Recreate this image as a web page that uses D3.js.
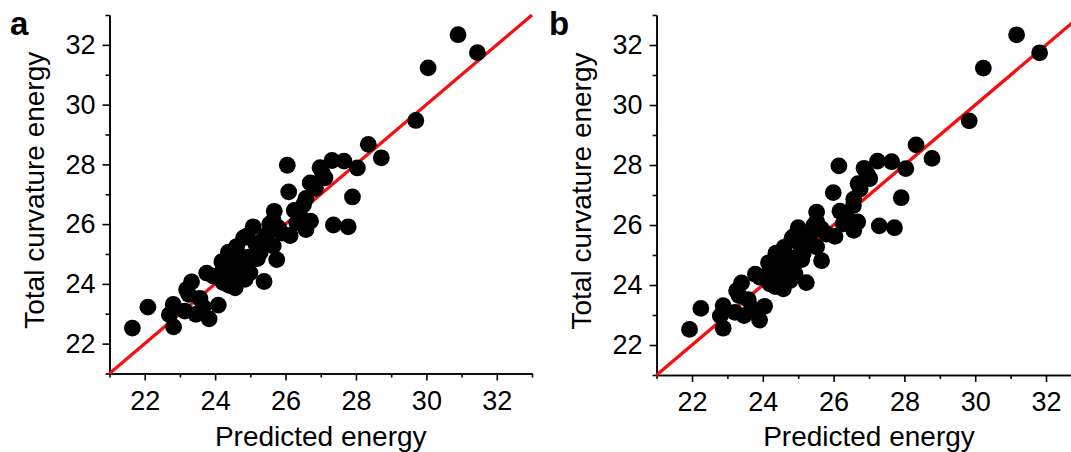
<!DOCTYPE html>
<html lang="en">
<head>
  <meta charset="UTF-8">
  <title>Predicted vs total curvature energy</title>
  <script src="https://d3js.org/d3.v7.min.js"></script>
  <style>
    body {
      margin: 0;
      background: #fff;
    }
    svg {
      display: block;
      font-family: "Liberation Sans", Arial, sans-serif;
    }
    .axis path, .axis line {
      stroke: #000;
      stroke-width: 1.6;
    }
    .axis text {
      font-size: 27px;
      fill: #000;
      font-family: "Liberation Sans", Arial, sans-serif;
    }
    .title {
      font-size: 28px;
      fill: #000;
    }
    .panel-label {
      font-size: 33px;
      font-weight: bold;
    }
  </style>
</head>
<body>
  <svg width="1071" height="452"></svg>

  <script>
    // total curvature energy (shared by both panels)
    const totalEnergy = [
      32.34, 31.74, 31.23, 29.47, 28.67, 28.22, 27.88, 26.91, 25.91, 25.97,
      27.97, 27.08, 26.86, 27.38, 27.89, 28.13, 28.11, 27.55, 26.46, 26.10,
      25.82, 25.62, 26.43, 25.92, 24.81, 24.08, 25.91, 25.54, 25.06, 24.36,
      24.07, 23.65, 23.29, 22.83, 22.98, 22.56, 23.31, 22.97, 23.22, 22.52,
      26.04, 25.87, 26.12, 25.65, 25.27, 25.05, 24.90, 25.25, 24.74, 24.48,
      24.37, 23.87, 24.04, 24.26, 24.48, 24.15, 24.15, 23.51, 23.23, 23.09,
      23.81, 26.65, 24.70, 25.60, 25.70, 26.30, 27.70, 27.20, 24.30, 26.00,
      24.60, 24.95, 24.55, 25.35, 24.10, 23.95, 25.45, 24.85
    ];

    // predicted energy, panel a
    const predictedA = [
      30.90, 31.45, 30.05, 29.70, 28.35, 28.72, 28.04, 27.90, 27.78, 27.36,
      26.05, 26.09, 26.58, 26.70, 26.98, 27.32, 27.66, 27.12, 26.25, 26.71,
      26.58, 26.13, 25.68, 25.62, 25.75, 25.39, 25.08, 24.81, 24.38, 23.76,
      23.33, 23.25, 24.09, 23.83, 23.45, 22.82, 22.81, 22.70, 22.09, 21.65,
      26.32, 25.80, 25.65, 25.47, 25.65, 25.28, 24.99, 24.61, 24.19, 24.71,
      24.99, 24.57, 24.23, 23.95, 24.23, 24.33, 24.85, 23.57, 23.66, 23.14,
      23.19, 26.51, 24.50, 24.90, 25.90, 26.40, 27.05, 26.85, 24.40, 25.55,
      24.45, 24.70, 24.90, 25.15, 24.55, 24.40, 25.35, 25.20
    ];

    // predicted energy, panel b
    const predictedB = [
      31.17, 31.82, 30.23, 29.83, 28.33, 28.78, 28.04, 27.91, 27.72, 27.29,
      26.15, 25.99, 26.57, 26.69, 26.86, 27.24, 27.64, 27.02, 26.18, 26.68,
      26.57, 26.04, 25.52, 25.50, 25.66, 25.23, 25.00, 24.82, 24.37, 23.79,
      23.40, 23.33, 24.05, 23.91, 23.47, 22.88, 22.88, 22.80, 22.25, 21.93,
      26.27, 25.66, 25.52, 25.33, 25.52, 25.14, 24.86, 24.60, 24.16, 24.63,
      24.91, 24.58, 24.20, 23.92, 24.20, 24.30, 24.77, 23.59, 23.69, 23.21,
      23.26, 26.56, 24.45, 24.85, 25.80, 26.35, 26.95, 26.75, 24.35, 25.45,
      24.40, 24.65, 24.85, 25.05, 24.50, 24.35, 25.25, 25.10
    ];

    const domain = [21, 33];
    const majorTicks = [22, 24, 26, 28, 30, 32];
    const minorTicks = [21, 23, 25, 27, 29, 31, 33];

    const panels = [
      { label: "a", xs: predictedA, x0: 109.5, x1: 532, y0: 373.5, y1: 15, labelX: 10 },
      { label: "b", xs: predictedB, x0: 656.6, x1: 1081.4, y0: 375, y1: 15, labelX: 549 }
    ];

    const svg = d3.select("svg");

    panels.forEach(p => {
      const x = d3.scaleLinear().domain(domain).range([p.x0, p.x1]);
      const y = d3.scaleLinear().domain(domain).range([p.y0, p.y1]);
      const g = svg.append("g");

      // minor ticks
      g.append("g")
        .attr("class", "axis")
        .attr("transform", `translate(0,${p.y0})`)
        .call(d3.axisBottom(x).tickValues(minorTicks).tickSize(4).tickSizeOuter(0).tickFormat(""));
      g.append("g")
        .attr("class", "axis")
        .attr("transform", `translate(${p.x0},0)`)
        .call(d3.axisLeft(y).tickValues(minorTicks).tickSize(4).tickSizeOuter(0).tickFormat(""));

      // major ticks + labels
      g.append("g")
        .attr("class", "axis")
        .attr("transform", `translate(0,${p.y0})`)
        .call(d3.axisBottom(x).tickValues(majorTicks).tickSize(7).tickSizeOuter(0).tickPadding(10));
      g.append("g")
        .attr("class", "axis")
        .attr("transform", `translate(${p.x0},0)`)
        .call(d3.axisLeft(y).tickValues(majorTicks).tickSize(7).tickSizeOuter(0).tickPadding(7));

      // identity line
      g.append("line")
        .attr("x1", x(21)).attr("y1", y(21))
        .attr("x2", x(33)).attr("y2", y(33))
        .attr("stroke", "#f51010")
        .attr("stroke-width", 3.3);

      // points
      g.append("g")
        .selectAll("circle")
        .data(p.xs.map((v, i) => [v, totalEnergy[i]]))
        .join("circle")
        .attr("cx", d => x(d[0]))
        .attr("cy", d => y(d[1]))
        .attr("r", 8.4)
        .attr("fill", "#000");

      // titles
      g.append("text")
        .attr("class", "title")
        .attr("x", (p.x0 + p.x1) / 2)
        .attr("y", 446)
        .attr("text-anchor", "middle")
        .text("Predicted energy");

      g.append("text")
        .attr("class", "title")
        .attr("transform", `translate(${p.x0 - 66},${(p.y0 + p.y1) / 2 - 4}) rotate(-90)`)
        .attr("text-anchor", "middle")
        .text("Total curvature energy");

      g.append("text")
        .attr("class", "panel-label")
        .attr("x", p.labelX)
        .attr("y", 35)
        .text(p.label);
    });
  </script>
</body>
</html>
